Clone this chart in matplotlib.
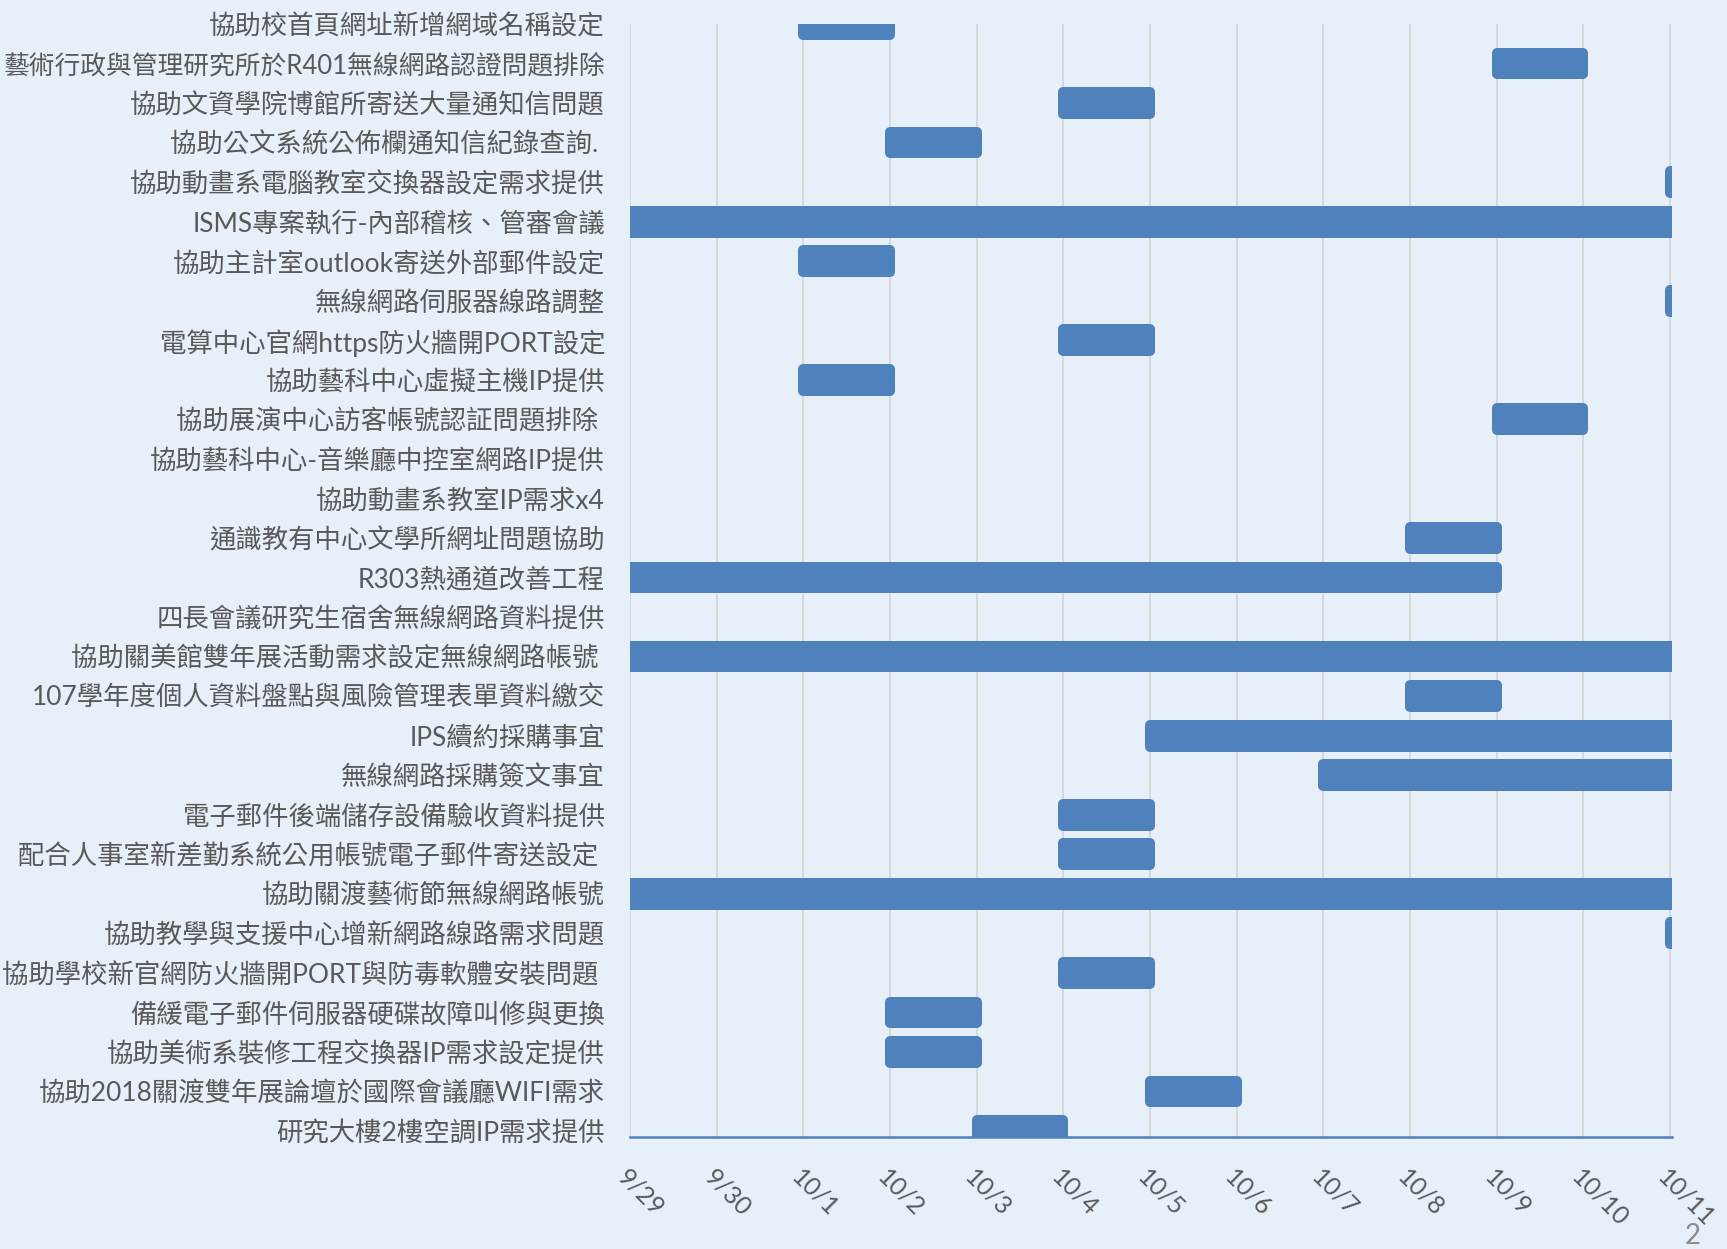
import matplotlib
matplotlib.use("Agg")
import matplotlib.pyplot as plt
import matplotlib.dates as mdates
from datetime import date

# task rows, top to bottom
tasks = [
    "協助校首頁網址新增網域名稱設定",
    "藝術行政與管理研究所於R401無線網路認證問題排除",
    "協助文資學院博館所寄送大量通知信問題",
    "協助公文系統公佈欄通知信紀錄查詢. ",
    "協助動畫系電腦教室交換器設定需求提供",
    "ISMS專案執行-內部稽核、管審會議",
    "協助主計室outlook寄送外部郵件設定",
    "無線網路伺服器線路調整",
    "電算中心官網https防火牆開PORT設定",
    "協助藝科中心虛擬主機IP提供",
    "協助展演中心訪客帳號認証問題排除 ",
    "協助藝科中心-音樂廳中控室網路IP提供",
    "協助動畫系教室IP需求x4",
    "通識教有中心文學所網址問題協助",
    "R303熱通道改善工程",
    "四長會議研究生宿舍無線網路資料提供",
    "協助關美館雙年展活動需求設定無線網路帳號 ",
    "107學年度個人資料盤點與風險管理表單資料繳交",
    "IPS續約採購事宜",
    "無線網路採購簽文事宜",
    "電子郵件後端儲存設備驗收資料提供",
    "配合人事室新差勤系統公用帳號電子郵件寄送設定 ",
    "協助關渡藝術節無線網路帳號",
    "協助教學與支援中心增新網路線路需求問題",
    "協助學校新官網防火牆開PORT與防毒軟體安裝問題 ",
    "備緩電子郵件伺服器硬碟故障叫修與更換",
    "協助美術系裝修工程交換器IP需求設定提供",
    "協助2018關渡雙年展論壇於國際會議廳WIFI需求",
    "研究大樓2樓空調IP需求提供",
]

# start / end dates (m/d, 2018); None = no bar in view
start_dates = [
    "10/1", "10/9", "10/4", "10/2", "10/11", "9/26", "10/1", "10/11",
    "10/4", "10/1", "10/9", None, None, "10/8", "9/26", None, "9/26",
    "10/8", "10/5", "10/7", "10/4", "10/4", "9/26", "10/11", "10/4",
    "10/2", "10/2", "10/5", "10/3",
]
end_dates = [
    "10/2", "10/10", "10/5", "10/3", "10/12", "10/15", "10/2", "10/12",
    "10/5", "10/2", "10/10", None, None, "10/9", "10/9", None, "10/15",
    "10/9", "10/15", "10/15", "10/5", "10/5", "10/15", "10/12", "10/5",
    "10/3", "10/3", "10/6", "10/4",
]

tick_labels = ["9/29", "9/30", "10/1", "10/2", "10/3", "10/4", "10/5",
               "10/6", "10/7", "10/8", "10/9", "10/10", "10/11"]


def to_num(md):
    m, d = md.split("/")
    return mdates.date2num(date(2018, int(m), int(d)))


plt.rcParams['font.family'] = ['Lato', 'Noto Sans CJK TC', 'DejaVu Sans']

bg = '#e7eff9'
bar_color = '#4f81bd'
text_color = '#595959'

fig = plt.figure(figsize=(17.27, 12.49), dpi=100, facecolor=bg)
ax = fig.add_axes([0.3648, 0.0897, 0.6034, 0.8911])
ax.set_facecolor(bg)

for i, (s, e) in enumerate(zip(start_dates, end_dates)):
    if s is None:
        continue
    left = to_num(s)
    ax.barh(i, to_num(e) - left, left=left, height=0.55, color=bar_color,
            edgecolor=bar_color, linewidth=7.2, joinstyle='round', zorder=3)

ticks = [to_num(t) for t in tick_labels]
ax.set_xlim(ticks[0], ticks[-1] + 0.023)
ax.set_ylim(28.15, 0.16)

ax.set_xticks(ticks)
ax.set_xticklabels(tick_labels, rotation=-45, ha='left', va='top',
                   rotation_mode='anchor', fontsize=18, color=text_color)
ax.set_yticks(range(len(tasks)))
ax.set_yticklabels(tasks, fontsize=19, color=text_color)
ax.tick_params(axis='x', length=0, pad=20)
ax.tick_params(axis='y', length=0, pad=18)

# the long label reaches the left edge; shrink it a touch so it fits
ax.get_yticklabels()[1].set_fontsize(18.5)

ax.grid(axis='x', color='#d6d6d6', linewidth=1.3, zorder=0)
ax.set_axisbelow(True)
for side in ['left', 'right', 'top']:
    ax.spines[side].set_visible(False)
ax.spines['bottom'].set_color(bar_color)
ax.spines['bottom'].set_linewidth(1.8)

# page number
fig.text(0.980, 0.0, "2", fontsize=20, color='#8c8c8c', ha='center', va='bottom')

fig.savefig("out.png", dpi=100, facecolor=bg)
